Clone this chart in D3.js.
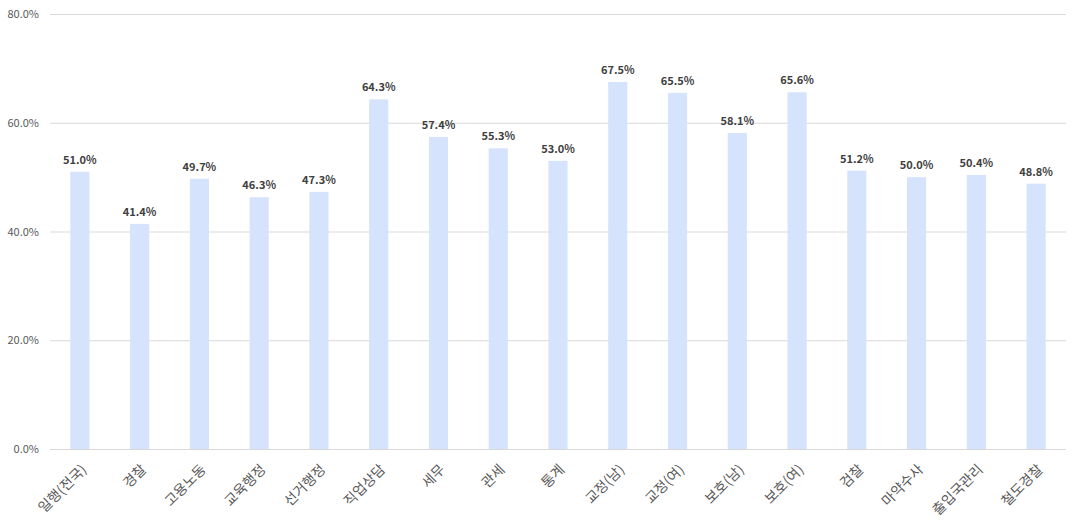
<!DOCTYPE html>
<html><head><meta charset="utf-8">
<script src="https://cdn.jsdelivr.net/npm/d3@7"></script>
<style>body{margin:0;background:#fff}svg{display:block}</style>
</head><body>
<svg id="c" width="1081" height="530"></svg>
<script>
const categories = ["일행(전국)","경찰","고용노동","교육행정","선거행정","직업상담","세무","관세","통계","교정(남)","교정(여)","보호(남)","보호(여)","검찰","마약수사","출입국관리","철도경찰"];
const values = [51.0,41.4,49.7,46.3,47.3,64.3,57.4,55.3,53.0,67.5,65.5,58.1,65.6,51.2,50.0,50.4,48.8];
const yTicks = [0,20,40,60,80];

const svg = d3.select("#c");
const m = {left:50, right:1066, top:14, bottom:449};
const x = d3.scaleBand().domain(categories).range([m.left, m.right]).paddingInner(0.68).paddingOuter(0.34);
const y = d3.scaleLinear().domain([0,80]).range([m.bottom, m.top]);
const font = "'Noto Sans CJK KR','Noto Sans',sans-serif";

svg.append("g").selectAll("line").data(yTicks).join("line")
  .attr("x1", m.left).attr("x2", m.right)
  .attr("y1", d=>y(d)+0.5).attr("y2", d=>y(d)+0.5)
  .attr("stroke", "#d9d9d9").attr("stroke-width", 1);

svg.append("g").selectAll("text").data(yTicks).join("text")
  .attr("x", 39).attr("y", d=>y(d)+4)
  .attr("text-anchor","end").attr("font-family", font).attr("font-size", 11)
  .attr("fill","#595959").text(d=>d.toFixed(1)+"%");

svg.append("g").selectAll("rect").data(values).join("rect")
  .attr("x", (d,i)=>x(categories[i])).attr("width", x.bandwidth())
  .attr("y", d=>y(d)).attr("height", d=>y(0)-y(d))
  .attr("fill","#d6e3fc");

svg.append("g").selectAll("text").data(values).join("text")
  .attr("x", (d,i)=>x(categories[i])+x.bandwidth()/2).attr("y", d=>y(d)-8)
  .attr("text-anchor","middle").attr("font-family", font).attr("font-size", 11).attr("font-weight","bold")
  .attr("fill","#404040").text(d=>d.toFixed(1)+"%");

svg.append("g").selectAll("text").data(categories).join("text")
  .attr("transform", d=>`translate(${x(d)+x.bandwidth()/2+4},${m.bottom+18}) rotate(-45)`)
  .attr("text-anchor","end").attr("dy","0.35em").attr("font-family", font).attr("font-size", 14)
  .attr("fill","#595959").text(d=>d);
</script>
</body></html>
